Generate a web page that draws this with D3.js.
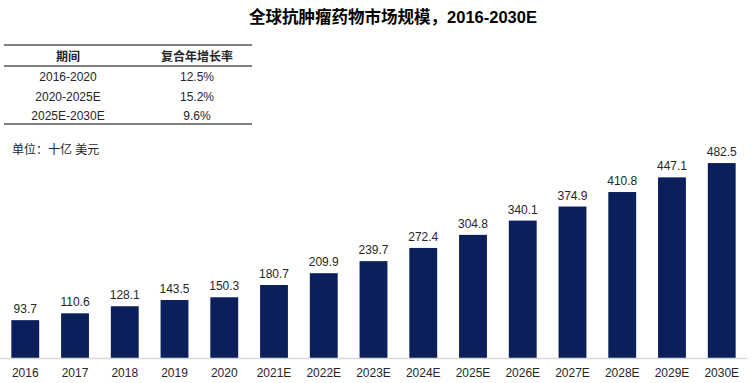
<!DOCTYPE html>
<html>
<head>
<meta charset="utf-8">
<script src="https://cdn.jsdelivr.net/npm/d3@7"></script>
<style>
  body { margin: 0; background: #fff; }
  svg text { font-family: "Liberation Sans", Arial, "Noto Sans CJK SC", sans-serif; fill: #262626; }
</style>
</head>
<body>
<div id="chart"></div>
<script>
// data
var years = ["2016", "2017", "2018", "2019", "2020", "2021E", "2022E", "2023E",
  "2024E", "2025E", "2026E", "2027E", "2028E", "2029E", "2030E"];
var marketSize = [93.7, 110.6, 128.1, 143.5, 150.3, 180.7, 209.9, 239.7,
  272.4, 304.8, 340.1, 374.9, 410.8, 447.1, 482.5];

var periods = ["2016-2020", "2020-2025E", "2025E-2030E"];
var cagr = ["12.5%", "15.2%", "9.6%"];
var tableHeader = ["期间", "复合年增长率"];

var titleText = "全球抗肿瘤药物市场规模，2016-2030E";
var unitText = "单位：十亿 美元";

var svgWidth = 754, svgHeight = 383;
var baseY = 358;

var svg = d3.select("#chart")
  .append("svg")
  .attr("width", svgWidth)
  .attr("height", svgHeight);

// title
svg.append("text")
  .attr("x", 393)
  .attr("y", 23)
  .attr("text-anchor", "middle")
  .attr("font-size", "16.5px")
  .attr("font-weight", "bold")
  .style("fill", "#000")
  .text(titleText);

// CAGR table
var table = svg.append("g");
var colX = [68, 197];
[45, 66, 124].forEach(function(y) {
  table.append("line")
    .attr("x1", 4).attr("x2", 252)
    .attr("y1", y).attr("y2", y)
    .attr("stroke", "#7f7f7f")
    .attr("stroke-width", 2);
});
table.selectAll(".hdr")
  .data(tableHeader)
  .enter()
  .append("text")
  .attr("x", (d, i) => colX[i])
  .attr("y", 57)
  .attr("dy", "0.35em")
  .attr("text-anchor", "middle")
  .attr("font-size", "12px")
  .attr("font-weight", "bold")
  .text(d => d);

var rowY = [77, 97, 116];
table.selectAll(".period")
  .data(periods)
  .enter()
  .append("text")
  .attr("x", colX[0])
  .attr("y", (d, i) => rowY[i])
  .attr("dy", "0.35em")
  .attr("text-anchor", "middle")
  .attr("font-size", "12px")
  .text(d => d);
table.selectAll(".cagr")
  .data(cagr)
  .enter()
  .append("text")
  .attr("x", colX[1])
  .attr("y", (d, i) => rowY[i])
  .attr("dy", "0.35em")
  .attr("text-anchor", "middle")
  .attr("font-size", "12px")
  .text(d => d);

svg.append("text")
  .attr("x", 12)
  .attr("y", 150)
  .attr("dy", "0.35em")
  .attr("font-size", "12px")
  .text(unitText);

// scales
var x = d3.scaleBand()
  .domain(years)
  .range([0, 747])
  .paddingInner(0.44)
  .paddingOuter(0.228);

var y = d3.scaleLinear()
  .domain([0, 500])
  .range([baseY, baseY - 202]);

// bars
svg.selectAll(".bar")
  .data(marketSize)
  .enter()
  .append("rect")
  .attr("class", "bar")
  .attr("x", (d, i) => x(years[i]))
  .attr("y", d => y(d))
  .attr("width", x.bandwidth())
  .attr("height", d => baseY - y(d))
  .attr("fill", "#0a1f5b");

// value labels
svg.selectAll(".val")
  .data(marketSize)
  .enter()
  .append("text")
  .attr("x", (d, i) => x(years[i]) + x.bandwidth() / 2)
  .attr("y", d => y(d) - 7)
  .attr("text-anchor", "middle")
  .attr("font-size", "12px")
  .text(d => d.toFixed(1));

// x axis
var bottomAxis = d3.axisBottom(x).tickSize(0).tickPadding(10);
var axisG = svg.append("g")
  .attr("transform", `translate(0, ${baseY})`)
  .call(bottomAxis);
axisG.select(".domain").attr("stroke", "#d9d9d9").attr("stroke-width", 1.5);
axisG.selectAll("text")
  .attr("font-size", "12px")
  .style("font-family", "\"Liberation Sans\", Arial, sans-serif")
  .style("fill", "#262626");
</script>
</body>
</html>
